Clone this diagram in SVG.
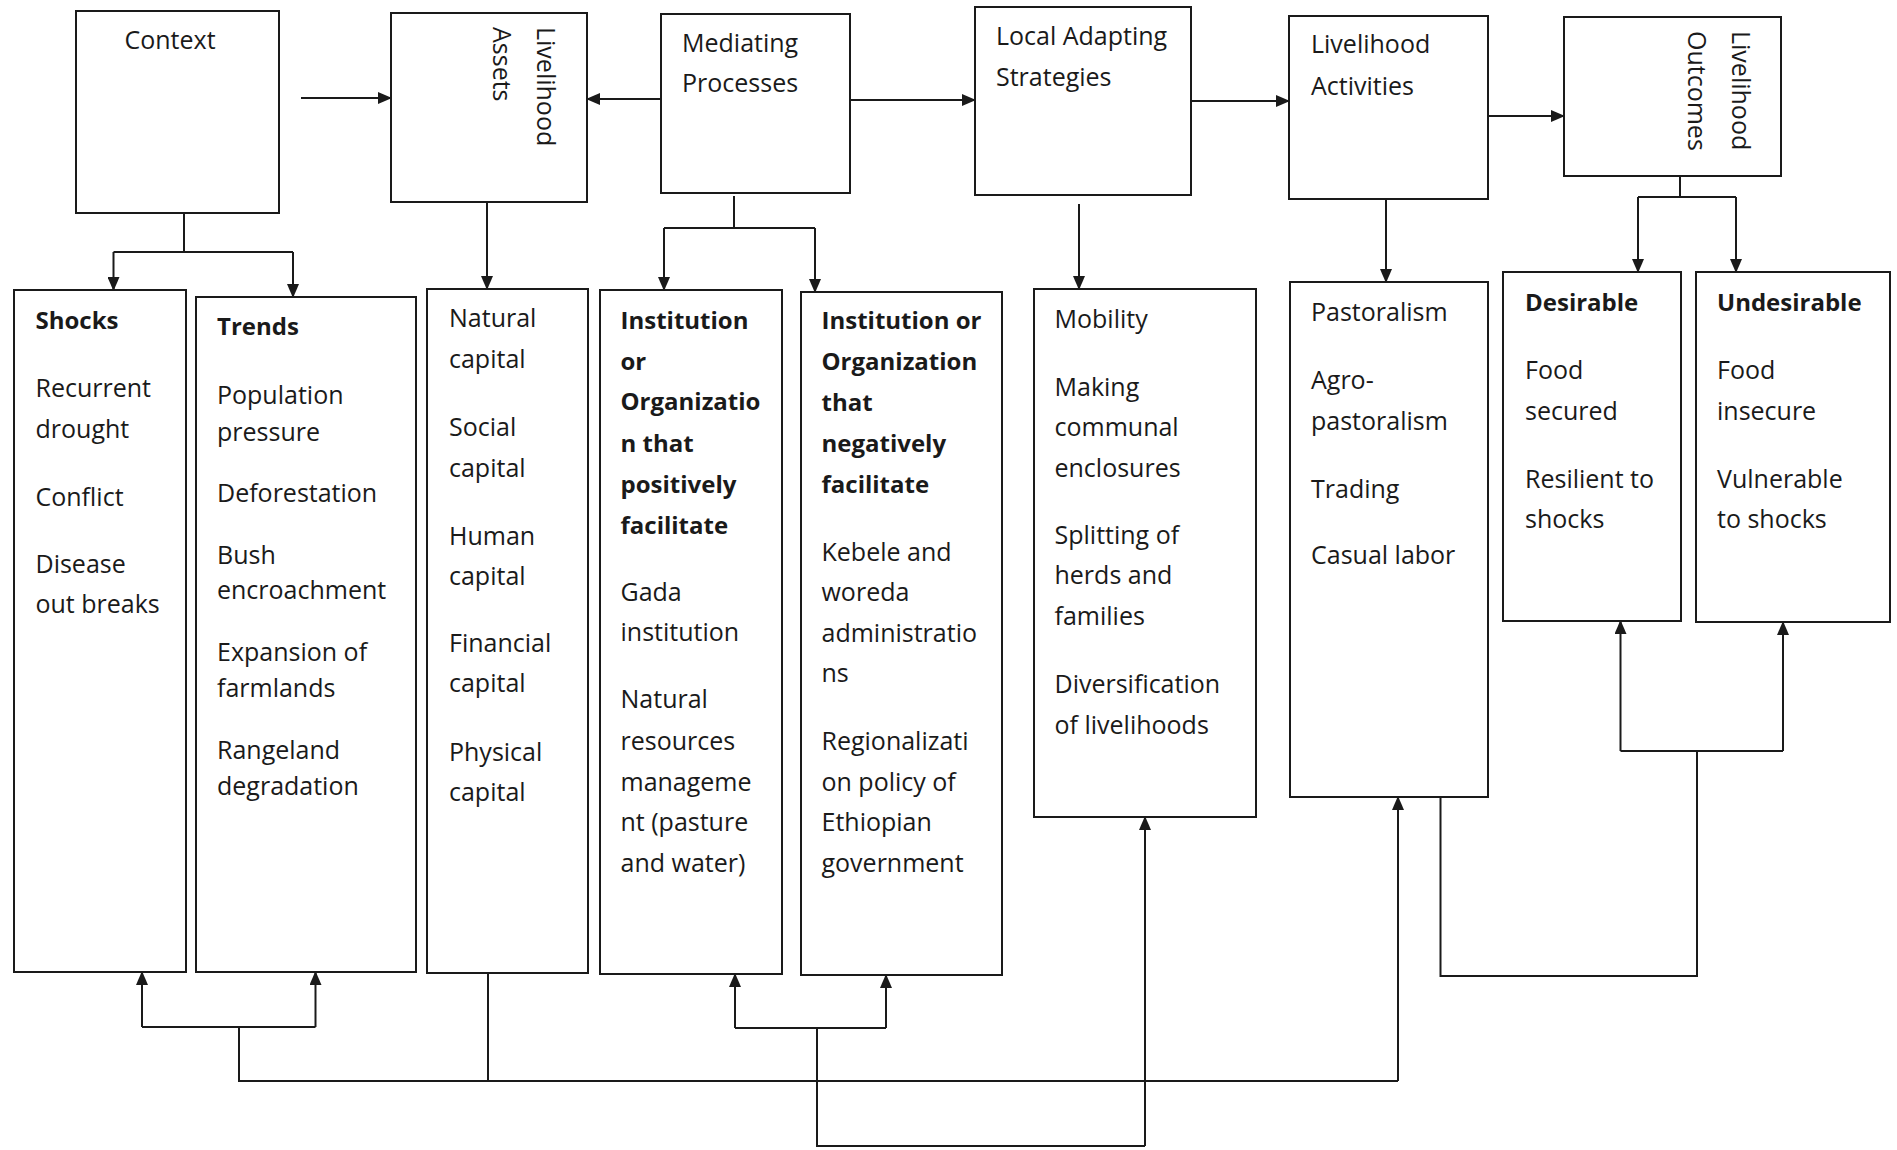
<svg xmlns="http://www.w3.org/2000/svg" width="1897" height="1150" viewBox="0 0 1897 1150">
<defs>
<style>
.box{fill:#fff;stroke:#1a1a1a;stroke-width:2}
.t{font-family:"Open Sans","Liberation Sans",sans-serif;font-size:25px;fill:#1a1a1a}
.b{font-family:"Open Sans","Liberation Sans",sans-serif;font-size:24px;font-weight:bold;fill:#1a1a1a}
.c{fill:none;stroke:#1a1a1a;stroke-width:2}
.a{fill:none;stroke:#1a1a1a;stroke-width:2;marker-end:url(#ah)}
</style>
<marker id="ah" viewBox="0 0 14 12" refX="13" refY="6" markerWidth="14" markerHeight="12" markerUnits="userSpaceOnUse" orient="auto">
<path d="M0,0 L14,6 L0,12 z" fill="#1a1a1a"/>
</marker>
</defs>
<rect width="1897" height="1150" fill="#fff"/>

<g id="connectors">
<path class="a" d="M301,98 H391"/>
<path class="a" d="M661,99 H587"/>
<path class="a" d="M850,100 H975"/>
<path class="a" d="M1191,101 H1289"/>
<path class="a" d="M1488,116 H1564"/>
<path class="c" d="M184,213 V252 M113.5,252 H293"/>
<path class="a" d="M113.5,252 V290"/>
<path class="a" d="M293,252 V297"/>
<path class="a" d="M487,202 V289"/>
<path class="c" d="M734,196 V228 M664,228 H815"/>
<path class="a" d="M664,228 V290"/>
<path class="a" d="M815,228 V292"/>
<path class="a" d="M1079,204 V289"/>
<path class="a" d="M1386,199 V282"/>
<path class="c" d="M1680,176 V197 M1638,197 H1736"/>
<path class="a" d="M1638,197 V272"/>
<path class="a" d="M1736,197 V272"/>
<path class="a" d="M142,1027 V972"/>
<path class="a" d="M315.5,1027 V972"/>
<path class="c" d="M142,1027 H315.5 M239,1027 V1081 H1398 M488,973 V1081"/>
<path class="a" d="M1398,1081 V797"/>
<path class="a" d="M735,1028 V974"/>
<path class="a" d="M886,1028 V975"/>
<path class="c" d="M735,1028 H886 M817,1028 V1146 H1145"/>
<path class="a" d="M1145,1146 V817"/>
<path class="c" d="M1440.5,797 V976 H1697 V751 M1620.5,751 H1783"/>
<path class="a" d="M1620.5,751 V621"/>
<path class="a" d="M1783,751 V622"/>
</g>

<g id="context">
<rect class="box" x="76" y="11" width="203" height="202"/>
<text class="t" x="124.5" y="49">Context</text>
</g>
<g id="livelihood-assets">
<rect class="box" x="391" y="13" width="196" height="189"/>
<text class="t" transform="translate(537,27) rotate(90)">Livelihood</text>
<text class="t" transform="translate(493,27) rotate(90)">Assets</text>
</g>
<g id="mediating-processes">
<rect class="box" x="661" y="14" width="189" height="179"/>
<text class="t" x="682" y="52">Mediating</text>
<text class="t" x="682" y="92">Processes</text>
</g>
<g id="local-adapting-strategies">
<rect class="box" x="975" y="7" width="216" height="188"/>
<text class="t" x="996" y="45">Local Adapting</text>
<text class="t" x="996" y="86">Strategies</text>
</g>
<g id="livelihood-activities">
<rect class="box" x="1289" y="16" width="199" height="183"/>
<text class="t" x="1311" y="53">Livelihood</text>
<text class="t" x="1311" y="95">Activities</text>
</g>
<g id="livelihood-outcomes">
<rect class="box" x="1564" y="17" width="217" height="159"/>
<text class="t" transform="translate(1732,31) rotate(90)">Livelihood</text>
<text class="t" transform="translate(1688,31) rotate(90)">Outcomes</text>
</g>

<g id="shocks">
<rect class="box" x="14" y="290" width="172" height="682"/>
<text class="b" x="35.5" y="329">Shocks</text>
<text class="t" x="35.5" y="397">Recurrent</text>
<text class="t" x="35.5" y="437.5">drought</text>
<text class="t" x="35.5" y="506">Conflict</text>
<text class="t" x="35.5" y="573">Disease</text>
<text class="t" x="35.5" y="613">out breaks</text>
</g>
<g id="trends">
<rect class="box" x="196" y="297" width="220" height="675"/>
<text class="b" x="217" y="335">Trends</text>
<text class="t" x="217" y="404">Population</text>
<text class="t" x="217" y="440.5">pressure</text>
<text class="t" x="217" y="502">Deforestation</text>
<text class="t" x="217" y="563.5">Bush</text>
<text class="t" x="217" y="599">encroachment</text>
<text class="t" x="217" y="661">Expansion of</text>
<text class="t" x="217" y="696.5">farmlands</text>
<text class="t" x="217" y="759">Rangeland</text>
<text class="t" x="217" y="794.5">degradation</text>
</g>
<g id="capitals">
<rect class="box" x="427" y="289" width="161" height="684"/>
<text class="t" x="449" y="327">Natural</text>
<text class="t" x="449" y="368">capital</text>
<text class="t" x="449" y="436">Social</text>
<text class="t" x="449" y="477">capital</text>
<text class="t" x="449" y="545">Human</text>
<text class="t" x="449" y="585">capital</text>
<text class="t" x="449" y="652">Financial</text>
<text class="t" x="449" y="692">capital</text>
<text class="t" x="449" y="761">Physical</text>
<text class="t" x="449" y="801">capital</text>
</g>
<g id="positive-institutions">
<rect class="box" x="600" y="290" width="182" height="684"/>
<text class="b" x="620.5" y="329">Institution</text>
<text class="b" x="620.5" y="370">or</text>
<text class="b" x="620.5" y="410">Organizatio</text>
<text class="b" x="620.5" y="451.5">n that</text>
<text class="b" x="620.5" y="493">positively</text>
<text class="b" x="620.5" y="534">facilitate</text>
<text class="t" x="620.5" y="601">Gada</text>
<text class="t" x="620.5" y="641">institution</text>
<text class="t" x="620.5" y="708">Natural</text>
<text class="t" x="620.5" y="750">resources</text>
<text class="t" x="620.5" y="791">manageme</text>
<text class="t" x="620.5" y="831">nt (pasture</text>
<text class="t" x="620.5" y="872">and water)</text>
</g>
<g id="negative-institutions">
<rect class="box" x="801" y="292" width="201" height="683"/>
<text class="b" x="821.5" y="329">Institution or</text>
<text class="b" x="821.5" y="370">Organization</text>
<text class="b" x="821.5" y="410.5">that</text>
<text class="b" x="821.5" y="451.5">negatively</text>
<text class="b" x="821.5" y="492.5">facilitate</text>
<text class="t" x="821.5" y="561">Kebele and</text>
<text class="t" x="821.5" y="601">woreda</text>
<text class="t" x="821.5" y="641.5">administratio</text>
<text class="t" x="821.5" y="681.5">ns</text>
<text class="t" x="821.5" y="750">Regionalizati</text>
<text class="t" x="821.5" y="790.5">on policy of</text>
<text class="t" x="821.5" y="831">Ethiopian</text>
<text class="t" x="821.5" y="872">government</text>
</g>
<g id="strategies-list">
<rect class="box" x="1034" y="289" width="222" height="528"/>
<text class="t" x="1054.5" y="327.5">Mobility</text>
<text class="t" x="1054.5" y="395.5">Making</text>
<text class="t" x="1054.5" y="436">communal</text>
<text class="t" x="1054.5" y="476.5">enclosures</text>
<text class="t" x="1054.5" y="543.5">Splitting of</text>
<text class="t" x="1054.5" y="584">herds and</text>
<text class="t" x="1054.5" y="625">families</text>
<text class="t" x="1054.5" y="692.5">Diversification</text>
<text class="t" x="1054.5" y="733.5">of livelihoods</text>
</g>
<g id="activities-list">
<rect class="box" x="1290" y="282" width="198" height="515"/>
<text class="t" x="1311" y="321">Pastoralism</text>
<text class="t" x="1311" y="388.5">Agro-</text>
<text class="t" x="1311" y="429.5">pastoralism</text>
<text class="t" x="1311" y="497.5">Trading</text>
<text class="t" x="1311" y="564">Casual labor</text>
</g>
<g id="desirable">
<rect class="box" x="1503" y="272" width="178" height="349"/>
<text class="b" x="1525" y="311">Desirable</text>
<text class="t" x="1525" y="378.5">Food</text>
<text class="t" x="1525" y="419.5">secured</text>
<text class="t" x="1525" y="487.5">Resilient to</text>
<text class="t" x="1525" y="527.5">shocks</text>
</g>
<g id="undesirable">
<rect class="box" x="1696" y="272" width="194" height="350"/>
<text class="b" x="1717" y="311">Undesirable</text>
<text class="t" x="1717" y="378.5">Food</text>
<text class="t" x="1717" y="419.5">insecure</text>
<text class="t" x="1717" y="487.5">Vulnerable</text>
<text class="t" x="1717" y="527.5">to shocks</text>
</g>
</svg>
